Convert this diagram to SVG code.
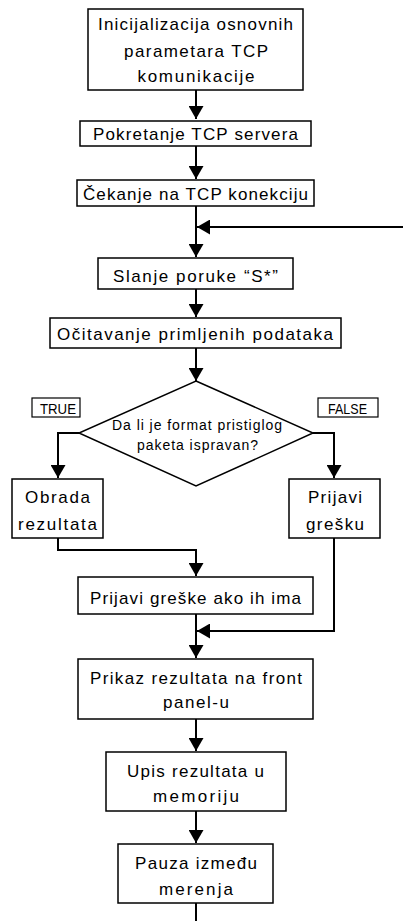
<svg xmlns="http://www.w3.org/2000/svg" width="403" height="921" viewBox="0 0 403 921">
<style>
.box{fill:#fff;stroke:#000;stroke-width:1.5}
.lb{fill:#fff;stroke:#000;stroke-width:1.2}
.t{font-family:"Liberation Sans",Arial,sans-serif;font-size:17px;fill:#000;text-anchor:middle}
.d{font-size:14px}
.s{font-size:15px}
.c{fill:none;stroke:#000;stroke-width:2}
</style>
<defs>
<marker id="ah" markerUnits="userSpaceOnUse" markerWidth="14" markerHeight="15" refX="13" refY="7.5" orient="auto">
<path d="M0,0 L13,7.5 L0,15 z" fill="#000"/>
</marker>
</defs>
<g id="connectors">
<path class="c" d="M196,90 V119" marker-end="url(#ah)"/>
<path class="c" d="M196,146 V179" marker-end="url(#ah)"/>
<path class="c" d="M196,206 V257" marker-end="url(#ah)"/>
<path class="c" d="M403,227 H197" marker-end="url(#ah)"/>
<path class="c" d="M196,289 V317" marker-end="url(#ah)"/>
<path class="c" d="M196,348 V381" marker-end="url(#ah)"/>
<path class="c" d="M79,433 H58 V478" marker-end="url(#ah)"/>
<path class="c" d="M313,433 H334 V478" marker-end="url(#ah)"/>
<path class="c" d="M58,538 V550 H196 V576" marker-end="url(#ah)"/>
<path class="c" d="M334,538 V631 H197" marker-end="url(#ah)"/>
<path class="c" d="M196,614 V658" marker-end="url(#ah)"/>
<path class="c" d="M196,719 V751" marker-end="url(#ah)"/>
<path class="c" d="M196,811 V843" marker-end="url(#ah)"/>
<path class="c" d="M196,903 V921"/>
</g>
<g id="n1"><rect class="box" x="88" y="9" width="215" height="81"/>
<text class="t" x="195.5" y="30" textLength="195" lengthAdjust="spacing">Inicijalizacija osnovnih</text>
<text class="t" x="196" y="56.5" textLength="144" lengthAdjust="spacing">parametara TCP</text>
<text class="t" x="196" y="82" textLength="117" lengthAdjust="spacing">komunikacije</text></g>
<g id="n2"><rect class="box" x="80" y="121" width="231" height="25"/>
<text class="t" x="195.5" y="139.5" textLength="205" lengthAdjust="spacing">Pokretanje TCP servera</text></g>
<g id="n3"><rect class="box" x="77" y="180" width="237" height="26"/>
<text class="t" x="195.5" y="200" textLength="225" lengthAdjust="spacing">Čekanje na TCP konekciju</text></g>
<g id="n4"><rect class="box" x="98" y="258" width="195" height="31"/>
<text class="t" x="195.5" y="282" textLength="165" lengthAdjust="spacing">Slanje poruke “S*”</text></g>
<g id="n5"><rect class="box" x="50" y="318" width="291" height="30"/>
<text class="t" x="195" y="340" textLength="276" lengthAdjust="spacing">Očitavanje primljenih podataka</text></g>
<g id="n6"><polygon class="box" points="196,381 313,433 196,486 79,433"/>
<text class="t d" x="197" y="429.5" textLength="170" lengthAdjust="spacing">Da li je format pristiglog</text>
<text class="t d" x="197.5" y="449.5" textLength="121" lengthAdjust="spacing">paketa ispravan?</text></g>
<g id="lblTrue"><rect class="lb" x="32" y="398" width="48" height="19"/>
<text class="t s" x="58" y="413.5" textLength="36" lengthAdjust="spacingAndGlyphs">TRUE</text></g>
<g id="lblFalse"><rect class="lb" x="318" y="398" width="60" height="19"/>
<text class="t s" x="347.5" y="413.5" textLength="39" lengthAdjust="spacingAndGlyphs">FALSE</text></g>
<g id="n7"><rect class="box" x="12" y="479" width="91" height="59"/>
<text class="t" x="57.5" y="503" textLength="65" lengthAdjust="spacing">Obrada</text>
<text class="t" x="57.5" y="530" textLength="79" lengthAdjust="spacing">rezultata</text></g>
<g id="n8"><rect class="box" x="289" y="479" width="91" height="59"/>
<text class="t" x="335" y="503" textLength="54" lengthAdjust="spacing">Prijavi</text>
<text class="t" x="335" y="530" textLength="58" lengthAdjust="spacing">grešku</text></g>
<g id="n9"><rect class="box" x="78" y="577" width="235" height="37"/>
<text class="t" x="195.5" y="604" textLength="211" lengthAdjust="spacing">Prijavi greške ako ih ima</text></g>
<g id="n10"><rect class="box" x="78" y="659" width="235" height="60"/>
<text class="t" x="196" y="684" textLength="212" lengthAdjust="spacing">Prikaz rezultata na front</text>
<text class="t" x="196" y="708" textLength="66" lengthAdjust="spacing">panel-u</text></g>
<g id="n11"><rect class="box" x="106" y="752" width="180" height="59"/>
<text class="t" x="195.5" y="777" textLength="137" lengthAdjust="spacing">Upis rezultata u</text>
<text class="t" x="196" y="802" textLength="86" lengthAdjust="spacing">memoriju</text></g>
<g id="n12"><rect class="box" x="118" y="844" width="155" height="59"/>
<text class="t" x="196" y="869" textLength="122" lengthAdjust="spacing">Pauza između</text>
<text class="t" x="196" y="895" textLength="74" lengthAdjust="spacing">merenja</text></g>
</svg>
